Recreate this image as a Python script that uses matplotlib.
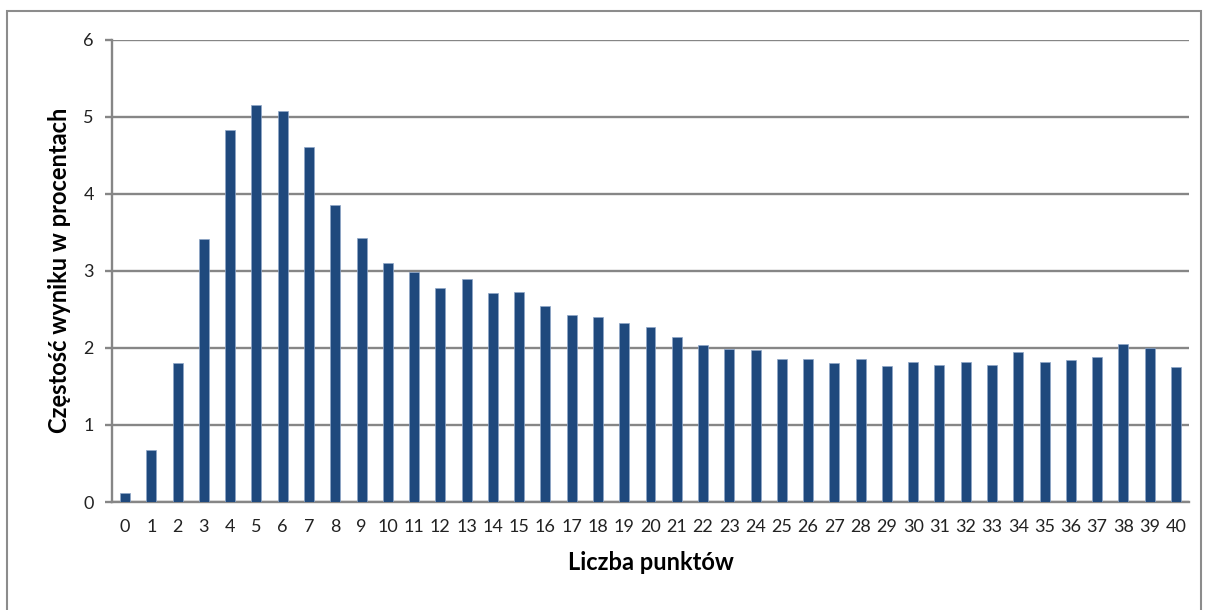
import numpy as np
import matplotlib.pyplot as plt
from matplotlib.patches import Rectangle

# points scored (0..40) and share of results in percent
punkty = list(range(41))
czestosc = [0.12, 0.67, 1.81, 3.41, 4.82, 5.15, 5.07, 4.61, 3.85, 3.42,
            3.10, 2.99, 2.78, 2.89, 2.71, 2.72, 2.54, 2.43, 2.40, 2.32,
            2.27, 2.14, 2.04, 1.99, 1.97, 1.85, 1.85, 1.80, 1.85, 1.77,
            1.82, 1.78, 1.82, 1.78, 1.94, 1.82, 1.84, 1.88, 2.05, 2.00,
            1.75]
y_ticks = [0, 1, 2, 3, 4, 5, 6]

plt.rcParams['font.family'] = ['Lato', 'DejaVu Sans']

fig = plt.figure(figsize=(12.08, 6.10), dpi=100)
ax = fig.add_axes([0.0927, 0.177, 0.8916, 0.7582])

grid_col = '#868686'
ax.bar(punkty, czestosc, width=0.38, color='#1f497d',
       edgecolor='#8ea6c8', linewidth=0.5, zorder=3)

ax.set_xlim(-0.5, 40.5)
ax.set_ylim(0, 6)
ax.set_yticks(y_ticks)
ax.set_xticks(punkty)
ax.set_xticklabels([str(p) for p in punkty])
ax.yaxis.grid(True, color=grid_col, linewidth=1.7, zorder=0)
ax.set_axisbelow(True)

for side in ['top', 'right']:
    ax.spines[side].set_visible(False)
for side in ['left', 'bottom']:
    ax.spines[side].set_color(grid_col)
    ax.spines[side].set_linewidth(1.7)

ax.tick_params(axis='y', length=5, width=1.7, color=grid_col, pad=8,
               labelsize=13, labelcolor='#222222')
ax.tick_params(axis='x', length=0, pad=12, labelsize=13, labelcolor='#222222')

ax.set_xlabel('Liczba punktów', fontsize=17, fontweight='bold', labelpad=12)
ax.set_ylabel('Częstość wyniku w procentach', fontsize=17, fontweight='bold',
              labelpad=9)

# outer chart frame
fig.patches.append(Rectangle((0.006, -0.05), 0.988, 1.0325, transform=fig.transFigure,
                             fill=False, edgecolor='#8c8c8c', linewidth=1.5))

fig.savefig('out.png', dpi=100)
